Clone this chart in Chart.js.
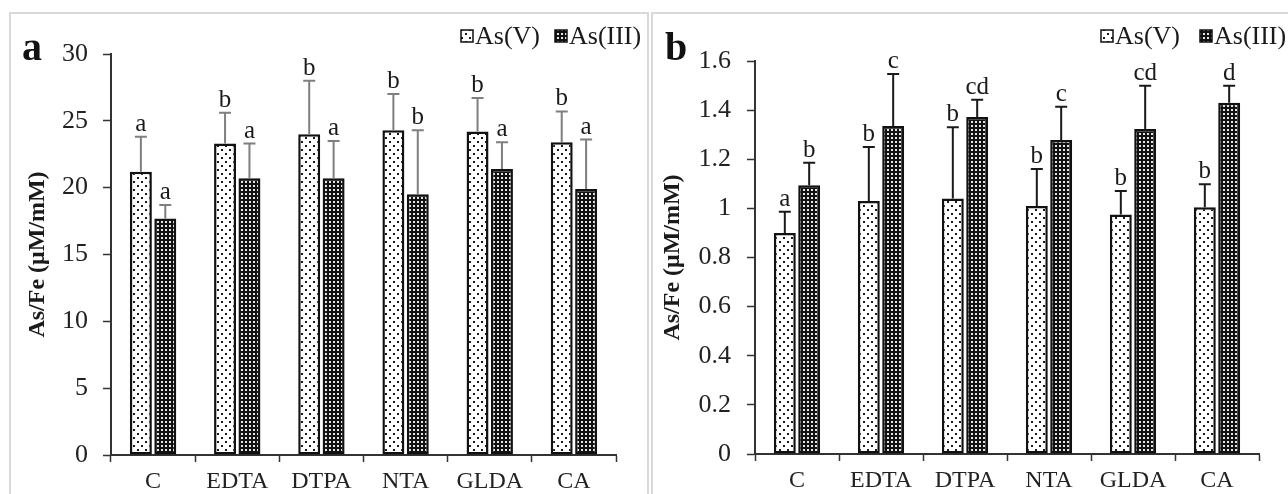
<!DOCTYPE html>
<html>
<head>
<meta charset="utf-8">
<title>As/Fe</title>
<script src="https://cdn.jsdelivr.net/npm/chart.js@4.4.1/dist/chart.umd.min.js"></script>
<style>
  html, body { margin: 0; padding: 0; background: #fff; }
  body { width: 1288px; height: 494px; position: relative; overflow: hidden; }
  .frame { position: absolute; border: 2px solid #d9d9d9; }
  #frameA { left: 9px; top: 12px; width: 636px; height: 500px; }
  #frameB { left: 651px; top: 12px; width: 660px; height: 500px; }
  .box { position: absolute; top: 0; height: 494px; }
  #boxA { left: 0; width: 650px; }
  #boxB { left: 650px; width: 638px; }
</style>
</head>
<body>
<div class="frame" id="frameA"></div>
<div class="frame" id="frameB"></div>
<div class="box" id="boxA"><canvas id="chartA"></canvas></div>
<div class="box" id="boxB"><canvas id="chartB"></canvas></div>

<script>
// categorias (quelantes)
const categories = ["C", "EDTA", "DTPA", "NTA", "GLDA", "CA"];
const seriesNames = ["As(V)", "As(III)"];

// painel a
const aAsV = [21.2, 23.3, 24.0, 24.3, 24.2, 23.4];
const aAsVErr = [2.6, 2.3, 4.0, 2.7, 2.5, 2.3];
const aAsVLetters = ["a", "b", "b", "b", "b", "b"];
const aAsIII = [17.7, 20.7, 20.7, 19.5, 21.4, 19.9];
const aAsIIIErr = [1.0, 2.6, 2.8, 4.8, 2.0, 3.7];
const aAsIIILetters = ["a", "a", "a", "b", "a", "a"];
const aTicks = [0, 5, 10, 15, 20, 25, 30];

// painel b
const bAsV = [0.90, 1.03, 1.04, 1.01, 0.975, 1.005];
const bAsVErr = [0.086, 0.22, 0.29, 0.15, 0.096, 0.093];
const bAsVLetters = ["a", "b", "b", "b", "b", "b"];
const bAsIII = [1.094, 1.335, 1.372, 1.278, 1.323, 1.43];
const bAsIIIErr = [0.092, 0.212, 0.07, 0.136, 0.176, 0.069];
const bAsIIILetters = ["b", "c", "cd", "c", "cd", "d"];
const bTicks = [0, 0.2, 0.4, 0.6, 0.8, 1, 1.2, 1.4, 1.6];

const SERIF = '"Liberation Serif", "Times New Roman", serif';
Chart.defaults.font.family = SERIF;
Chart.defaults.color = "#222";

// padrões de preenchimento
function dotPattern() {
  const c = document.createElement("canvas");
  c.width = 8; c.height = 8;
  const x = c.getContext("2d");
  x.fillStyle = "#fff";
  x.fillRect(0, 0, 8, 8);
  x.fillStyle = "#1a1a1a";
  x.fillRect(1, 1, 2, 2);
  x.fillRect(5, 5, 2, 2);
  return x.createPattern(c, "repeat");
}

function gridPattern() {
  const c = document.createElement("canvas");
  c.width = 4; c.height = 4;
  const x = c.getContext("2d");
  x.fillStyle = "#111";
  x.fillRect(0, 0, 4, 4);
  x.fillStyle = "#e6e6e6";
  x.fillRect(1, 1, 2, 2);
  return x.createPattern(c, "repeat");
}

// barras de erro, letras, legenda e letra do painel
const annotPlugin = {
  id: "annot",
  afterDatasetsDraw(chart, args, opts) {
    const ctx = chart.ctx;
    const yScale = chart.scales.y;
    ctx.save();
    chart.data.datasets.forEach((ds, i) => {
      const meta = chart.getDatasetMeta(i);
      meta.data.forEach((bar, j) => {
        const top = yScale.getPixelForValue(ds.data[j] + ds.errors[j]);
        ctx.strokeStyle = opts.errColor;
        ctx.lineWidth = 2;
        ctx.beginPath();
        ctx.moveTo(bar.x, bar.y);
        ctx.lineTo(bar.x, top);
        ctx.moveTo(bar.x - 6, top);
        ctx.lineTo(bar.x + 6, top);
        ctx.stroke();

        ctx.fillStyle = "#1a1a1a";
        ctx.font = "25px " + SERIF;
        ctx.textAlign = "center";
        ctx.textBaseline = "alphabetic";
        ctx.fillText(ds.letters[j], bar.x, top - 6);
      });
    });

    // letra do painel
    ctx.font = "bold 40px " + SERIF;
    ctx.textAlign = "left";
    ctx.fillStyle = "#111";
    ctx.fillText(opts.panel, opts.panelX, 60);

    // legenda
    ctx.font = "26px " + SERIF;
    opts.legend.forEach((item, i) => {
      const ds = chart.data.datasets[i];
      ctx.fillStyle = ds.backgroundColor;
      ctx.fillRect(item.box, 30, 12, 12);
      ctx.strokeStyle = "#111";
      ctx.lineWidth = 1.5;
      ctx.strokeRect(item.box, 30, 12, 12);
      ctx.fillStyle = "#1a1a1a";
      ctx.fillText(ds.label, item.text, 44);
    });
    ctx.restore();
  },
};

function makeChart(id, cfg) {
  const ctx = document.getElementById(id);
  return new Chart(ctx, {
    type: "bar",
    data: {
      labels: categories,
      datasets: [
        {
          label: seriesNames[0],
          data: cfg.v,
          errors: cfg.vErr,
          letters: cfg.vLetters,
          backgroundColor: dotPattern(),
          borderColor: "#111",
          borderWidth: 2.5,
          borderSkipped: false,
        },
        {
          label: seriesNames[1],
          data: cfg.iii,
          errors: cfg.iiiErr,
          letters: cfg.iiiLetters,
          backgroundColor: gridPattern(),
          borderColor: "#111",
          borderWidth: 2.5,
          borderSkipped: false,
        },
      ],
    },
    options: {
      responsive: true,
      maintainAspectRatio: false,
      animation: false,
      categoryPercentage: 0.58,
      barPercentage: 0.9,
      layout: { padding: { left: 0, right: cfg.padRight, top: cfg.padTop, bottom: 0 } },
      plugins: {
        legend: { display: false },
        tooltip: { enabled: false },
        annot: cfg.annot,
      },
      scales: {
        x: {
          grid: {
            offset: true,
            drawOnChartArea: false,
            drawTicks: true,
            tickLength: 7,
            tickColor: "#333",
            tickWidth: 1.5,
          },
          border: { color: "#333", width: 2 },
          ticks: { font: { size: 24 }, color: "#222", padding: 5, maxRotation: 0 },
          afterFit: (s) => { s.height = cfg.xHeight; },
        },
        y: {
          min: 0,
          max: cfg.max,
          afterBuildTicks: (s) => { s.ticks = cfg.ticks.map((v) => ({ value: v })); },
          grid: {
            drawOnChartArea: false,
            drawTicks: true,
            tickLength: 8,
            tickColor: "#333",
            tickWidth: 1.5,
          },
          border: { color: "#333", width: 2 },
          ticks: {
            font: { size: 26 },
            color: "#222",
            padding: cfg.tickPad,
            callback: (v) => String(+Number(v).toFixed(1)),
          },
          title: {
            display: true,
            text: "As/Fe (\u03bcM/mM)",
            font: { size: 24, weight: "bold" },
            color: "#1a1a1a",
            padding: { top: cfg.titlePad, bottom: 0 },
          },
          afterFit: (s) => { s.width = cfg.yWidth; },
        },
      },
    },
    plugins: [annotPlugin],
  });
}

document.addEventListener("DOMContentLoaded", () => {
  makeChart("chartA", {
    v: aAsV, vErr: aAsVErr, vLetters: aAsVLetters,
    iii: aAsIII, iiiErr: aAsIIIErr, iiiLetters: aAsIIILetters,
    ticks: aTicks, max: 30,
    yWidth: 111, xHeight: 39, padTop: 54, padRight: 34,
    tickPad: 15, titlePad: 23,
    annot: {
      errColor: "#7f7f7f",
      panel: "a", panelX: 22,
      legend: [{ box: 461, text: 475 }, { box: 555, text: 569 }],
    },
  });

  makeChart("chartB", {
    v: bAsV, vErr: bAsVErr, vLetters: bAsVLetters,
    iii: bAsIII, iiiErr: bAsIIIErr, iiiLetters: bAsIIILetters,
    ticks: bTicks, max: 1.6,
    yWidth: 105, xHeight: 40, padTop: 61, padRight: 29,
    tickPad: 16, titlePad: 8,
    annot: {
      errColor: "#1a1a1a",
      panel: "b", panelX: 15,
      legend: [{ box: 451, text: 465 }, { box: 550, text: 564 }],
    },
  });
});
</script>
</body>
</html>
